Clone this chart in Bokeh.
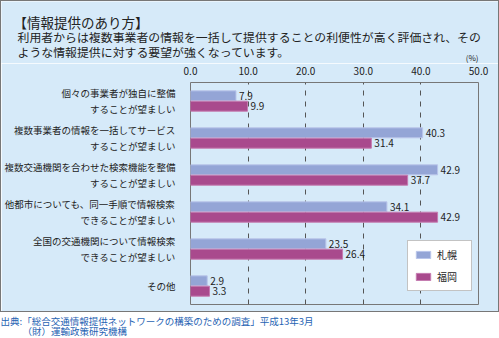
from bokeh.plotting import figure
from bokeh.layouts import column, row
from bokeh.models import (ColumnDataSource, FactorRange, FixedTicker, PrintfTickFormatter,
                          Legend, LegendItem, Range1d)
from bokeh.transform import dodge
from bokeh.embed import file_html
from bokeh.resources import INLINE
from bokeh.core.properties import value

categories = [
    "個々の事業者が独自に整備\nすることが望ましい",
    "複数事業者の情報を一括してサービス\nすることが望ましい",
    "複数交通機関を合わせた検索機能を整備\nすることが望ましい",
    "他都市についても、同一手順で情報検索\nできることが望ましい",
    "全国の交通機関について情報検索\nできることが望ましい",
    "その他",
]
sapporo = [7.9, 40.3, 42.9, 34.1, 23.5, 2.9]
fukuoka = [9.9, 31.4, 37.7, 42.9, 26.4, 3.3]
series_names = ["札幌", "福岡"]
x_ticks = [0, 10, 20, 30, 40, 50]

title_text = "【情報提供のあり方】"
desc_lines = [
    "利用者からは複数事業者の情報を一括して提供することの利便性が高く評価され、その",
    "ような情報提供に対する要望が強くなっています。",
]
unit_text = "(%)"
source_lines = [
    "出典:「総合交通情報提供ネットワークの構築のための調査」平成13年3月",
    "（財）運輸政策研究機構",
]

BG = "#d6eaf9"
JPF = "Noto Sans CJK JP"
JP = value(JPF)
C_S = "#94a5d6"
C_F = "#a94a8d"
INNER_W = 497


def blank_fig(w, h, bg):
    f = figure(width=w, height=h, output_backend="svg", toolbar_location=None,
               x_range=Range1d(0, w), y_range=Range1d(h, 0),
               x_axis_type=None, y_axis_type=None, min_border=0)
    f.background_fill_color = bg
    f.border_fill_color = bg
    f.outline_line_color = None
    f.xgrid.visible = False
    f.ygrid.visible = False
    return f


# ---- header ----
header = blank_fig(INNER_W, 62, BG)
header.text(x=[12], y=[20], text=[title_text], text_font=JP, text_font_size="13.5px",
            text_color="#222222", text_baseline="middle")
header.text(x=[16, 16], y=[35, 50], text=desc_lines, text_font=JP, text_font_size="11.9px",
            text_color="#222222", text_baseline="middle")
header.text(x=[477], y=[56], text=[unit_text], text_font=JP, text_font_size="8px",
            text_color="#222222", text_baseline="middle", text_align="right")

# ---- main chart ----
src = ColumnDataSource(dict(
    cat=categories,
    sapporo=sapporo,
    fukuoka=fukuoka,
    s_lbl=[f"{v:.1f}" for v in sapporo],
    f_lbl=[f"{v:.1f}" for v in fukuoka],
))

p = figure(width=INNER_W, height=248, output_backend="svg", toolbar_location=None,
           x_range=(0, 50), y_range=FactorRange(*reversed(categories)),
           x_axis_location="above",
           min_border_left=181, min_border_right=20, min_border_top=16, min_border_bottom=7)
p.background_fill_color = BG
p.border_fill_color = BG
p.outline_line_color = "#777777"
p.outline_line_width = 1

r_s = p.hbar(y=dodge("cat", 0.14, range=p.y_range), right="sapporo", left=0, height=0.27,
             source=src, fill_color=C_S, line_color="#b9c5ea", line_width=1)
r_f = p.hbar(y=dodge("cat", -0.14, range=p.y_range), right="fukuoka", left=0, height=0.27,
             source=src, fill_color=C_F, line_color="#c57bb0", line_width=1)

p.text(x="sapporo", y=dodge("cat", 0.14, range=p.y_range), text="s_lbl", source=src,
       x_offset=3, text_baseline="middle", text_font_size="10px", text_font=JP, text_color="#222222")
p.text(x="fukuoka", y=dodge("cat", -0.14, range=p.y_range), text="f_lbl", source=src,
       x_offset=3, text_baseline="middle", text_font_size="10px", text_font=JP, text_color="#222222")

xa = p.xaxis[0]
xa.ticker = FixedTicker(ticks=x_ticks)
xa.formatter = PrintfTickFormatter(format="%.1f")
xa.axis_line_color = None
xa.major_tick_line_color = None
xa.minor_tick_line_color = None
xa.major_label_standoff = 2
xa.major_label_text_font_size = "10px"
xa.major_label_text_font = JPF
xa.major_label_text_color = "#222222"

ya = p.yaxis[0]
ya.axis_line_color = None
ya.major_tick_line_color = None
ya.minor_tick_line_color = None
ya.major_label_standoff = 9
ya.major_label_text_font_size = "9.5px"
ya.major_label_text_font = JPF
ya.major_label_text_color = "#222222"
ya.major_label_text_line_height = 1.15

p.xgrid.ticker = FixedTicker(ticks=[10, 20, 30, 40])
p.xgrid.grid_line_color = "#555555"
p.xgrid.grid_line_dash = "5 6"
p.xgrid.grid_line_width = 1
p.ygrid.grid_line_color = None

legend = Legend(items=[LegendItem(label=series_names[0], renderers=[r_s]),
                       LegendItem(label=series_names[1], renderers=[r_f])],
                location=(217, 13), orientation="vertical", margin=0,
                glyph_width=18, glyph_height=9, label_text_font_size="10px",
                label_text_font=JPF, label_text_color="#222222",
                label_height=12, spacing=7, padding=6, label_standoff=5, label_width=28,
                border_line_color="#888888", border_line_width=1,
                background_fill_color="white", background_fill_alpha=1)
p.add_layout(legend, "center")

# ---- footer ----
footer = blank_fig(499, 26, "white")
footer.text(x=[0], y=[8], text=[source_lines[0]], text_font=JP, text_font_size="9.5px",
            text_color="#1f63b3", text_baseline="middle")
footer.text(x=[22], y=[18], text=[source_lines[1]], text_font=JP, text_font_size="9.5px",
            text_color="#1f63b3", text_baseline="middle")

boxed = column(row(header), row(p), spacing=0, styles={"border": "1px solid #777777"})
layout = column(boxed, row(footer), spacing=0)

open("out.html", "w").write(file_html(layout, INLINE))
